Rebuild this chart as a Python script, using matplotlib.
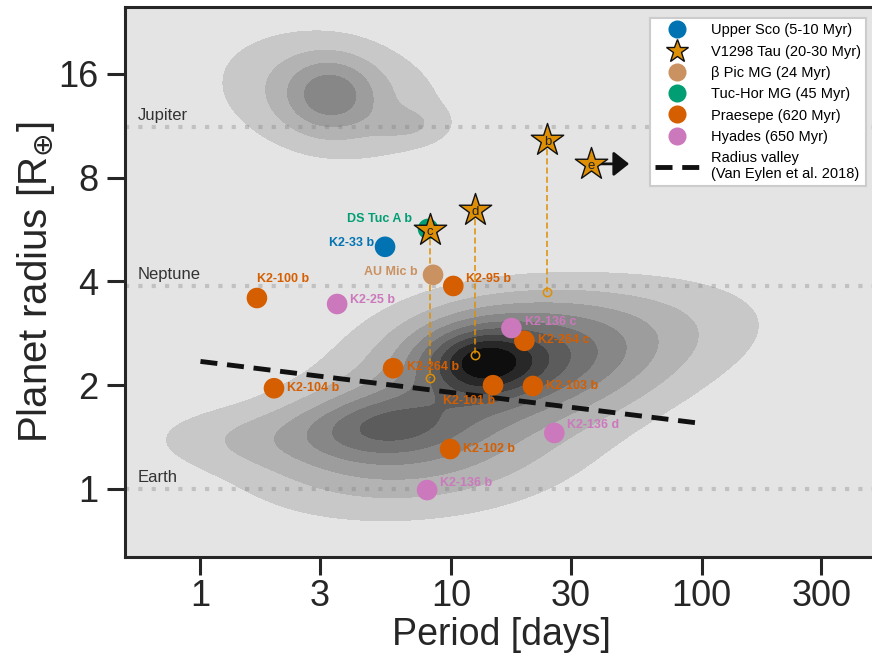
import matplotlib.pyplot as plt
import matplotlib.ticker as mticker
from matplotlib.lines import Line2D
import numpy as np

plt.rcParams['font.family'] = ['Liberation Sans', 'DejaVu Sans']
plt.rcParams['mathtext.fontset'] = 'dejavusans'

# ---- young planets (period [d], radius [R_earth]) ----
uppersco_names = ['K2-33 b']
uppersco_p = [5.45]
uppersco_r = [5.04]

bpic_names = ['AU Mic b']
bpic_p = [8.47]
bpic_r = [4.18]

tuchor_names = ['DS Tuc A b']
tuchor_p = [8.09]
tuchor_r = [5.68]

praesepe_names = ['K2-100 b', 'K2-95 b', 'K2-264 b', 'K2-264 c', 'K2-104 b',
                  'K2-101 b', 'K2-103 b', 'K2-102 b']
praesepe_p = [1.68, 10.2, 5.87, 19.6, 1.965, 14.7, 21.2, 9.91]
praesepe_r = [3.58, 3.88, 2.24, 2.69, 1.96, 2.00, 1.99, 1.306]

hyades_names = ['K2-25 b', 'K2-136 c', 'K2-136 d', 'K2-136 b']
hyades_p = [3.51, 17.4, 25.8, 8.02]
hyades_r = [3.44, 2.93, 1.454, 0.993]

# V1298 Tau planets, with the radius they shrink to (open circles)
v1298_names = ['c', 'd', 'b', 'e']
v1298_p = [8.24, 12.5, 24.2, 36.2]
v1298_r = [5.64, 6.45, 10.3, 8.77]
v1298_r_final = [2.10, 2.45, 3.73, None]
v1298_e_pmax = 51.3   # arrow: period of e is a lower limit

# Radius valley (Van Eylen et al. 2018): log R = m log P + a
valley_m = -0.09
valley_a = 0.37
valley_p = [1, 100]

ref_names = ['Jupiter', 'Neptune', 'Earth']
ref_r = [11.21, 3.88, 1.0]

# background Kepler density, as gaussian blobs in (log10 P, log10 R)
kde_logp = [1.116, 1.256, 0.717, 0.796, 1.116, 1.675, 0.138, 0.916, 0.517, 0.517, 0.836]
kde_logr = [0.368, 0.389, 0.186, 0.171, 0.287, 0.461, 0.148, 0.055, 1.143, 1.143, 1.056]
kde_sp = [0.152, 0.339, 0.22, 0.38, 0.599, 0.439, 0.28, 0.439, 0.12, 0.32, 0.10]
kde_sr = [0.064, 0.116, 0.064, 0.116, 0.174, 0.116, 0.064, 0.116, 0.073, 0.133, 0.035]
kde_rho = [0.0, 0.0, 0.1, 0.3, 0.45, 0.2, 0.0, 0.2, 0.0, -0.2, 0.0]
kde_w = [0.35, 0.35, 0.22, 0.15, 0.15, 0.13, 0.10, 0.15, 0.217, 0.217, 0.09]

c_blue = '#0173b2'
c_star = '#de8f05'
c_bpic = '#ca9161'
c_green = '#029e73'
c_praesepe = '#d55e00'
c_hyades = '#cc78bc'

fig = plt.figure(figsize=(8.72, 6.62), dpi=100)
ax = fig.add_axes([125 / 872, 105 / 662, 752 / 872, 550 / 662])
ax.set_facecolor('#e4e4e4')
ax.set_xscale('log')
ax.set_yscale('log')
ax.set_xlim(0.5, 500)
ax.set_ylim(0.635, 25)

# density contours
gx = np.linspace(np.log10(0.5), np.log10(500), 400)
gy = np.linspace(np.log10(0.6), np.log10(26), 400)
GX, GY = np.meshgrid(gx, gy)
Z = np.zeros_like(GX)
for mx, my, sx, sy, rho, w in zip(kde_logp, kde_logr, kde_sp, kde_sr, kde_rho, kde_w):
    dx = (GX - mx) / sx
    dy = (GY - my) / sy
    q = (dx**2 - 2 * rho * dx * dy + dy**2) / (1 - rho**2)
    Z += w * np.exp(-0.5 * q)
Z /= Z.max()
greys = ['#c8c8c8', '#b3b3b3', '#9d9d9d', '#878787', '#727272',
         '#5c5c5c', '#434343', '#282828', '#0e0e0e']
ax.contourf(10**GX, 10**GY, Z, levels=np.linspace(0.1, 1.0, 10), colors=greys, zorder=1)

# reference radii
for name, r in zip(ref_names, ref_r):
    ax.axhline(r, color='#808080', alpha=0.35, lw=3, ls=(0, (1, 2.2)), zorder=2)
    ax.text(0.56, r * 1.03, name, fontsize=12, color='#333333', va='bottom', ha='left', zorder=3)

# radius valley
vp = np.array(valley_p, dtype=float)
ax.plot(vp, 10**(valley_m * np.log10(vp) + valley_a), color='#111111', lw=3.5,
        dashes=(3.5, 2), zorder=4)

# V1298 Tau: drop lines to final radii
for p, r, rf in zip(v1298_p, v1298_r, v1298_r_final):
    if rf is None:
        continue
    ax.plot([p, p], [r, rf], color=c_star, lw=1.1, ls=(0, (4, 2)), zorder=3)
    ax.plot(p, rf, 'o', mfc='none', mec=c_star, ms=6, mew=1.1, zorder=3)

msize = 220
groups = [
    (uppersco_names, uppersco_p, uppersco_r, c_blue),
    (bpic_names, bpic_p, bpic_r, c_bpic),
    (tuchor_names, tuchor_p, tuchor_r, c_green),
    (praesepe_names, praesepe_p, praesepe_r, c_praesepe),
    (hyades_names, hyades_p, hyades_r, c_hyades),
]
for names, p, r, c in groups:
    ax.scatter(p, r, s=msize, color=c, edgecolor='none', zorder=5)

# label offsets in pixels (dx, dy, ha)
offsets = {
    'K2-33 b': (-11, 4, 'right'), 'DS Tuc A b': (-16, 10, 'right'), 'AU Mic b': (-15, 3, 'right'),
    'K2-95 b': (13, 7, 'left'), 'K2-100 b': (0, 19, 'left'), 'K2-25 b': (13, 4, 'left'),
    'K2-136 c': (14, 6, 'left'), 'K2-264 c': (14, 1, 'left'), 'K2-264 b': (14, 1, 'left'),
    'K2-104 b': (13, 0, 'left'), 'K2-101 b': (-24, -16, 'center'), 'K2-103 b': (13, 0, 'left'),
    'K2-136 d': (13, 8, 'left'), 'K2-102 b': (13, 0, 'left'), 'K2-136 b': (13, 7, 'left'),
}
for names, p, r, c in groups:
    for n, pp, rr in zip(names, p, r):
        dx, dy, ha = offsets[n]
        ax.annotate(n, (pp, rr), xytext=(dx, dy), textcoords='offset pixels',
                    ha=ha, va='center', fontsize=9, fontweight='bold', color=c, zorder=6)

# V1298 Tau stars
ax.annotate('', xy=(v1298_e_pmax, v1298_r[3]), xytext=(v1298_p[3], v1298_r[3]),
            arrowprops=dict(arrowstyle='-|>,head_length=0.63,head_width=0.5', mutation_scale=15,
                            color='#111111', lw=2, shrinkA=0, shrinkB=0),
            zorder=6)
ax.scatter(v1298_p, v1298_r, s=600, marker='*', color=c_star, edgecolor='#111111',
           linewidth=1, zorder=7)
for n, p, r in zip(v1298_names, v1298_p, v1298_r):
    ax.text(p, r * 0.985, n, fontsize=9.5, ha='center', va='center', color='#222222', zorder=8)

ax.xaxis.set_major_locator(mticker.FixedLocator([1, 3, 10, 30, 100, 300]))
ax.xaxis.set_major_formatter(mticker.FixedFormatter(['1', '3', '10', '30', '100', '300']))
ax.xaxis.set_minor_locator(mticker.NullLocator())
ax.yaxis.set_major_locator(mticker.FixedLocator([1, 2, 4, 8, 16]))
ax.yaxis.set_major_formatter(mticker.FixedFormatter(['1', '2', '4', '8', '16']))
ax.yaxis.set_minor_locator(mticker.NullLocator())
ax.tick_params(which='major', length=13, width=2.2, labelsize=26, color='#262626',
               labelcolor='#262626', pad=6)
ax.tick_params(axis='x', pad=3)
for s in ax.spines.values():
    s.set_linewidth(2.2)
    s.set_color('#262626')

ax.set_xlabel('Period [days]', fontsize=27, color='#262626', labelpad=2)
ax.set_ylabel('Planet radius [R$_{\\oplus}$]', fontsize=29, color='#262626', labelpad=1)

handles = [
    Line2D([], [], ls='none', marker='o', ms=12, color=c_blue),
    Line2D([], [], ls='none', marker='*', ms=17, mfc=c_star, mec='#111111', mew=1),
    Line2D([], [], ls='none', marker='o', ms=12, color=c_bpic),
    Line2D([], [], ls='none', marker='o', ms=12, color=c_green),
    Line2D([], [], ls='none', marker='o', ms=12, color=c_praesepe),
    Line2D([], [], ls='none', marker='o', ms=12, color=c_hyades),
    Line2D([], [], color='#111111', lw=3.5, dashes=(3.5, 2)),
]
labels = ['Upper Sco (5-10 Myr)', 'V1298 Tau (20-30 Myr)', 'β Pic MG (24 Myr)',
          'Tuc-Hor MG (45 Myr)', 'Praesepe (620 Myr)', 'Hyades (650 Myr)',
          'Radius valley\n(Van Eylen et al. 2018)']
leg = ax.legend(handles, labels, loc='upper right', bbox_to_anchor=(873 / 872, 1 - 11 / 662),
                bbox_transform=fig.transFigure, fontsize=10.5, frameon=True, fancybox=False,
                framealpha=1, edgecolor='#cccccc', handlelength=3.0, labelspacing=0.5,
                borderpad=0.35, handletextpad=0.8)
leg.get_frame().set_linewidth(1.5)
leg.set_zorder(10)

fig.savefig('out.png', dpi=100)
